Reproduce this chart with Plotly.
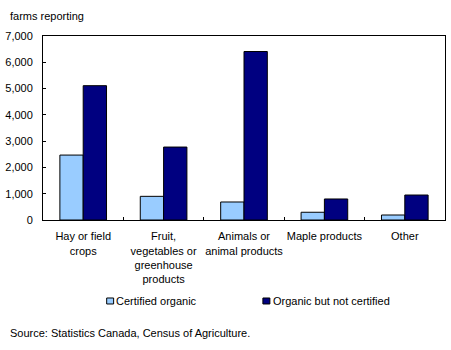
import plotly.graph_objects as go

categories = ["Hay or field<br>crops", "Fruit,<br>vegetables or<br>greenhouse<br>products",
              "Animals or<br>animal products", "Maple products", "Other"]
certified = [2470, 900, 685, 295, 190]
not_certified = [5110, 2775, 6410, 800, 950]
series_names = ["Certified organic", "Organic but not certified"]
series_colors = ["#99CCFF", "#000080"]
y_ticks = [0, 1000, 2000, 3000, 4000, 5000, 6000, 7000]
y_tick_labels = ["0", "1,000", "2,000", "3,000", "4,000", "5,000", "6,000", "7,000"]

FONT = "Arial, Liberation Sans, sans-serif"

fig = go.Figure()
for vals, name, col in zip([certified, not_certified], series_names, series_colors):
    fig.add_trace(go.Bar(x=categories, y=vals, name=name, showlegend=False,
                         marker=dict(color=col, line=dict(color="black", width=1))))

# Custom legend (small swatches placed close to text, as in the reference)
legend_swatch_x = [(0.1584, 0.1757), (0.547, 0.5644)]
legend_text_x = [0.1807, 0.5718]
shapes = []
annotations = []
for (x0, x1), tx, name, col in zip(legend_swatch_x, legend_text_x, series_names, series_colors):
    shapes.append(dict(type="rect", xref="paper", yref="paper", x0=x0, x1=x1,
                       y0=-0.4565, y1=-0.4239, fillcolor=col,
                       line=dict(color="black", width=1)))
    annotations.append(dict(text=name, xref="paper", yref="paper", x=tx, y=-0.4402,
                            xanchor="left", yanchor="middle", showarrow=False,
                            font=dict(size=11), borderpad=0, xshift=-1))

annotations += [
    dict(text="farms reporting", xref="paper", yref="paper", x=-0.088, y=1.1087,
         xanchor="left", yanchor="middle", showarrow=False, font=dict(size=11)),
    dict(text="Source: Statistics Canada, Census of Agriculture.", xref="paper", yref="paper",
         x=-0.088, y=-0.614, xanchor="left", yanchor="middle", showarrow=False,
         font=dict(size=11)),
]

fig.update_layout(
    width=451, height=350,
    margin=dict(l=42, r=5, t=36, b=130),
    paper_bgcolor="white", plot_bgcolor="white",
    font=dict(family=FONT, size=11, color="black"),
    barmode="group", bargap=0.42, bargroupgap=0,
    showlegend=False,
    shapes=shapes,
    annotations=annotations,
)
fig.update_xaxes(showline=True, linecolor="black", linewidth=1, mirror=True,
                 ticks="inside", ticklen=3, tickcolor="black", tickson="boundaries",
                 showgrid=False, tickfont=dict(size=11), tickangle=0,
                 ticklabelstandoff=6)
fig.update_yaxes(range=[0, 7000], tickvals=y_ticks, ticktext=y_tick_labels,
                 showline=True, linecolor="black", linewidth=1, mirror=True,
                 ticks="inside", ticklen=3, tickcolor="black", showgrid=False,
                 zeroline=False, tickfont=dict(size=11), ticklabelstandoff=7)

fig.write_html("out.html")
